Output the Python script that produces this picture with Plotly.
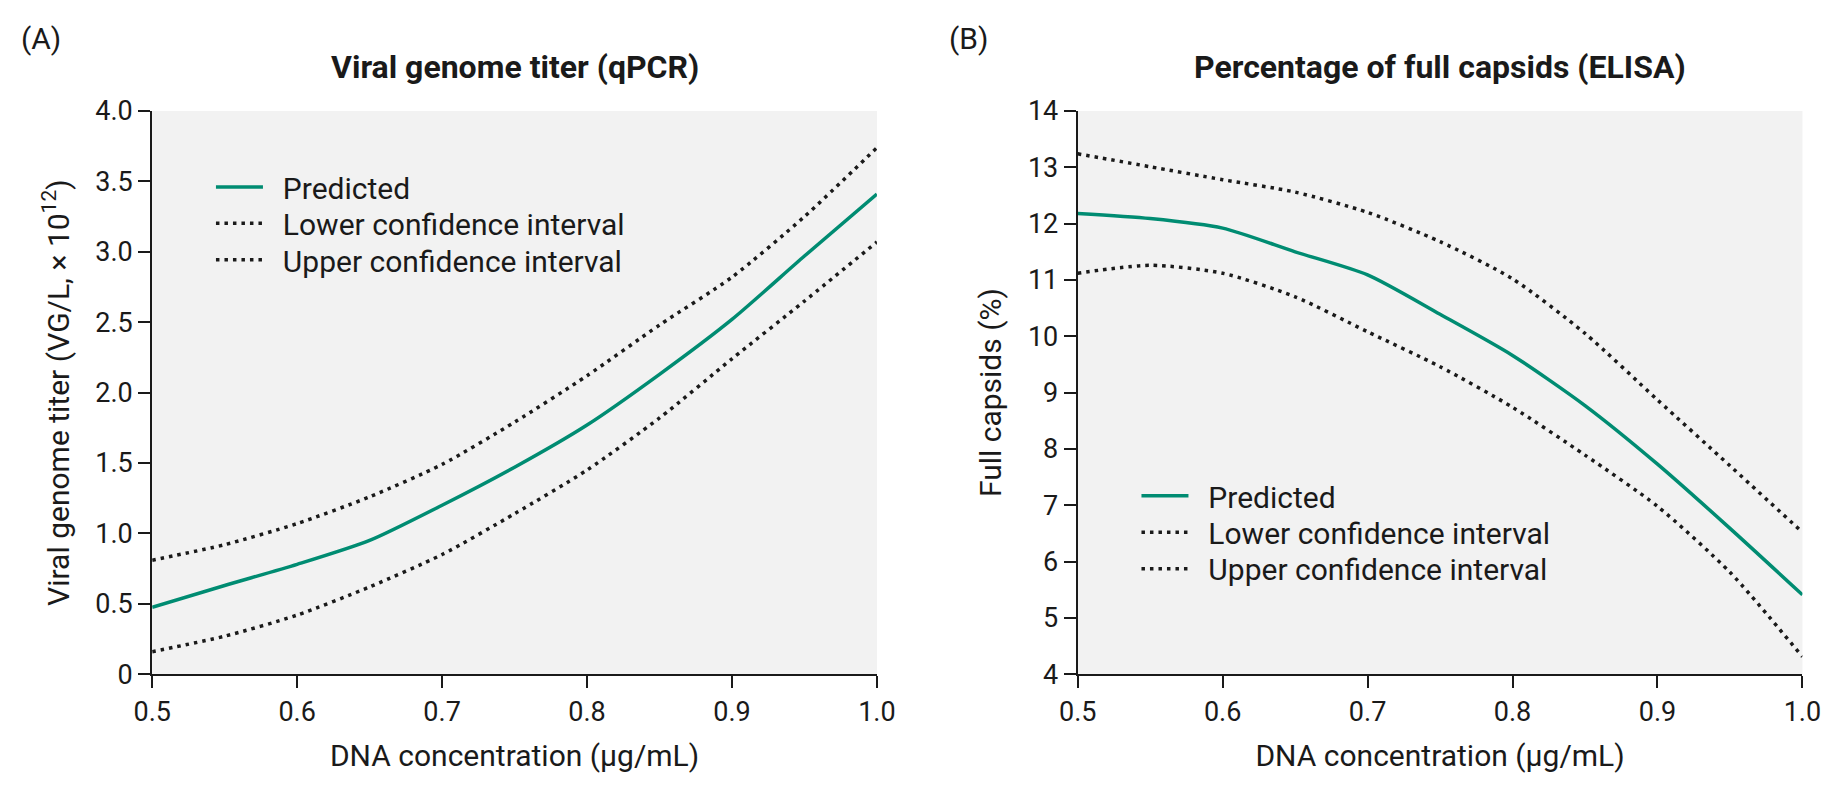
import plotly.graph_objects as go

# DNA concentration (ug/mL)
dna_conc = [0.5, 0.55, 0.6, 0.65, 0.7, 0.75, 0.8, 0.85, 0.9, 0.95, 1.0]

# (A) viral genome titer, VG/L x 10^12
titer_pred = [0.475, 0.63, 0.78, 0.95, 1.20, 1.47, 1.77, 2.13, 2.52, 2.97, 3.41]
titer_lower = [0.16, 0.27, 0.42, 0.62, 0.85, 1.14, 1.45, 1.82, 2.24, 2.65, 3.07]
titer_upper = [0.81, 0.92, 1.07, 1.26, 1.49, 1.79, 2.12, 2.48, 2.82, 3.25, 3.74]

# (B) full capsids, %
full_pred = [12.18, 12.09, 11.92, 11.50, 11.09, 10.39, 9.66, 8.77, 7.73, 6.59, 5.41]
full_lower = [11.12, 11.26, 11.12, 10.70, 10.08, 9.46, 8.74, 7.89, 6.98, 5.81, 4.31]
full_upper = [13.24, 13.01, 12.78, 12.56, 12.20, 11.68, 11.02, 10.05, 8.87, 7.70, 6.52]

x_ticks = [0.5, 0.6, 0.7, 0.8, 0.9, 1.0]
x_ticktext = ["0.5", "0.6", "0.7", "0.8", "0.9", "1.0"]
titer_ticks = [0, 0.5, 1.0, 1.5, 2.0, 2.5, 3.0, 3.5, 4.0]
titer_ticktext = ["0", "0.5", "1.0", "1.5", "2.0", "2.5", "3.0", "3.5", "4.0"]
full_ticks = list(range(4, 15))

GREEN = "#008C72"
INK = "#1a1a1a"
FONT = "Roboto"
W, H = 1842, 790
SZ = 30
TICK_SZ = 27

fig = go.Figure()


def add_panel(fig, pred, lower, upper, xref, yref, legends):
    # one legend per entry so the row spacing can follow the reference
    gap = "\u00a0\u00a0"
    dotted = dict(color=INK, width=3.5, dash="3.5px,5px", shape="spline", smoothing=0.7)
    fig.add_trace(go.Scatter(
        x=dna_conc, y=pred, mode="lines", name=gap + "Predicted",
        line=dict(color=GREEN, width=3.5, shape="spline", smoothing=0.7),
        xaxis=xref, yaxis=yref, legend=legends[0]))
    fig.add_trace(go.Scatter(
        x=dna_conc, y=lower, mode="lines", name=gap + "Lower confidence interval",
        line=dotted, xaxis=xref, yaxis=yref, legend=legends[1]))
    fig.add_trace(go.Scatter(
        x=dna_conc, y=upper, mode="lines", name=gap + "Upper confidence interval",
        line=dotted, xaxis=xref, yaxis=yref, legend=legends[2]))


add_panel(fig, titer_pred, titer_lower, titer_upper, "x", "y",
          ["legend", "legend2", "legend3"])
add_panel(fig, full_pred, full_lower, full_upper, "x2", "y2",
          ["legend4", "legend5", "legend6"])

axis_common = dict(
    showline=True, linecolor=INK, linewidth=2,
    ticks="outside", ticklen=12, tickwidth=2, tickcolor=INK,
    showgrid=False, zeroline=False,
    tickfont=dict(family=FONT, size=TICK_SZ, color=INK),
)
title_font = dict(family=FONT, size=SZ, color=INK)

ytop, ybot = 1 - 99 / H, 1 - 686 / H


def legend_at(x_px, top_px):
    return dict(x=x_px / W, y=1 - top_px / H, xanchor="left", yanchor="top",
                bgcolor="rgba(0,0,0,0)", font=dict(family=FONT, size=SZ, color=INK),
                itemwidth=47)


fig.update_layout(
    width=W, height=H,
    margin=dict(l=0, r=0, t=0, b=0),
    paper_bgcolor="white", plot_bgcolor="#f2f2f2",
    font=dict(family=FONT, size=SZ, color=INK),
    xaxis=dict(domain=[136 / W, 876 / W], range=[0.5, 1.0], tickvals=x_ticks,
               ticktext=x_ticktext, anchor="y",
               title=dict(text="DNA concentration (µg/mL)", standoff=18, font=title_font),
               **axis_common),
    yaxis=dict(domain=[ybot, ytop], range=[0, 4.0], tickvals=titer_ticks,
               ticktext=titer_ticktext, anchor="x",
               title=dict(text="Viral genome titer (VG/L, × 10<sup>12</sup>)", standoff=17,
                          font=title_font),
               **axis_common),
    xaxis2=dict(domain=[1081 / W, 1821 / W], range=[0.5, 1.0], tickvals=x_ticks,
                ticktext=x_ticktext, anchor="y2",
                title=dict(text="DNA concentration (µg/mL)", standoff=18, font=title_font),
                **axis_common),
    yaxis2=dict(domain=[ybot, ytop], range=[4, 14], tickvals=full_ticks, anchor="x2",
                title=dict(text="Full capsids (%)", standoff=17, font=title_font),
                **axis_common),
    legend=legend_at(196, 151),
    legend2=legend_at(196, 189),
    legend3=legend_at(196, 227),
    legend4=legend_at(1141, 473),
    legend5=legend_at(1141, 511),
    legend6=legend_at(1141, 549),
    showlegend=True,
)

annotations = [
    dict(text="(A)", x=0, y=1 - 23 / H, xanchor="left", yanchor="middle",
         font=dict(family=FONT, size=SZ, color=INK)),
    dict(text="(B)", x=948 / W, y=1 - 23 / H, xanchor="left", yanchor="middle",
         font=dict(family=FONT, size=SZ, color=INK)),
    dict(text="<b>Viral genome titer (qPCR)</b>", x=506 / W, y=1 - 53 / H,
         xanchor="center", yanchor="middle", font=dict(family=FONT, size=32, color=INK)),
    dict(text="<b>Percentage of full capsids (ELISA)</b>", x=1451 / W, y=1 - 53 / H,
         xanchor="center", yanchor="middle", font=dict(family=FONT, size=32, color=INK)),
]
for a in annotations:
    fig.add_annotation(xref="paper", yref="paper", showarrow=False, **a)

fig.write_html("out.html", config={"displayModeBar": False},
               post_script="document.body.style.margin='0';")
